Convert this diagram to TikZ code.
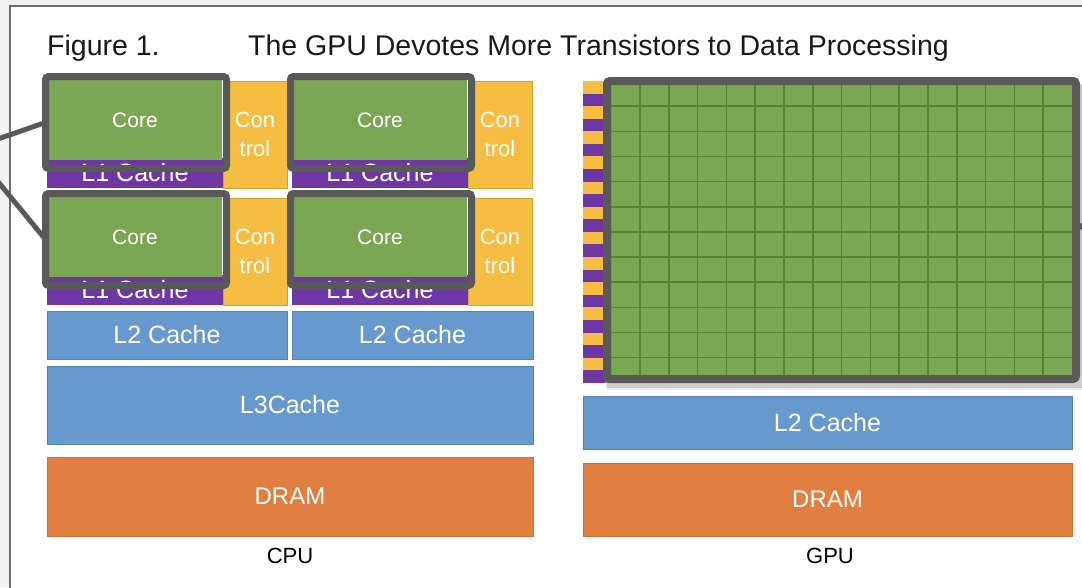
\documentclass[tikz,border=0pt]{standalone}
\usepackage{fontspec}
\setmainfont{Liberation Sans}
\definecolor{cgreen}{HTML}{7BA653}
\definecolor{cgrid}{HTML}{558533}
\definecolor{cpurple}{HTML}{6E37A4}
\definecolor{cyellow}{HTML}{F5BD41}
\definecolor{cblue}{HTML}{6799CF}
\definecolor{corange}{HTML}{E07F41}
\definecolor{cframe}{HTML}{595959}
\definecolor{cbg}{HTML}{F2F2F2}
\definecolor{cborder}{HTML}{6E6E6E}
\tikzset{
  blk/.style={rectangle, inner sep=0pt, outer sep=0pt, line width=0.6pt, text=white},
  corebox/.style={blk, fill=cgreen, minimum width=174, minimum height=80, font=\fontsize{21}{25}\selectfont},
  l1box/.style={blk, fill=cpurple, minimum width=176, minimum height=30, font=\fontsize{25}{30}\selectfont},
  ctlbox/.style={blk, fill=cyellow, draw=cyellow!85!black, minimum width=64, minimum height=107, align=center, font=\fontsize{22}{29}\selectfont},
  coreframe/.style={rectangle, draw=cframe, line width=7pt, rounded corners=3pt, inner sep=0pt, outer sep=0pt},
  bluebox/.style={blk, fill=cblue, draw=cblue!85!black, font=\fontsize{25}{30}\selectfont},
  drambox/.style={blk, fill=corange, draw=corange!90!black, font=\fontsize{24}{30}\selectfont},
  conn/.style={draw=cframe, line width=5pt},
  caption/.style={font=\fontsize{22}{26}\selectfont, text=black, inner sep=0pt},
  titletext/.style={font=\fontsize{28.5}{34}\selectfont, text=black!90, inner sep=0pt, anchor=base west}
}
\begin{document}
\begin{tikzpicture}[x=1pt, y=-1pt]
\useasboundingbox (0,0) rectangle (1082,587);
% background and figure frame
\fill[cbg] (0,0) rectangle (1082,587);
\draw[cborder, line width=1.5pt, fill=white] (10,6) rectangle (1100,620);
% title
\node[titletext] (fig) at (47,55) {Figure 1.};
\node[titletext] (title) at (248,55) {The GPU Devotes More Transistors to Data Processing};
% CPU cells
\foreach \c/\r in {0/0,1/0,0/1,1/1} {
  \pgfmathsetmacro{\dx}{\c*245}
  \pgfmathsetmacro{\dy}{\r*117}
  \node[ctlbox] (ctl\c\r) at (255+\dx,134.5+\dy) {Con\\trol};
  \node[l1box] (l1\c\r) at (135+\dx,173+\dy) {L1 Cache};
  \node[corebox] (core\c\r) at (135+\dx,120+\dy) {Core};
  \node[coreframe, minimum width=181, minimum height=92] (cf\c\r) at (136+\dx,122.5+\dy) {};
}
% CPU caches and memory
\node[bluebox, minimum width=240, minimum height=48] (l2a) at (167,335) {L2 Cache};
\node[bluebox, minimum width=241, minimum height=48] (l2b) at (412.5,335) {L2 Cache};
\node[bluebox, minimum width=486, minimum height=78] (l3) at (290,405) {L3Cache};
\node[drambox, minimum width=486, minimum height=79] (dram1) at (290,496.5) {DRAM};
\node[caption] (cpu) at (290,556) {CPU};
% connectors on the left
\coordinate (lc1) at (-5,140);
\coordinate (lc2) at (-5,178);
\draw[conn] (lc1) -- (cf00.west);
\draw[conn] (lc2) -- (cf01.west);
% soft shadow of the GPU block
\fill[black, opacity=0.12] (606,84) rectangle (1083,388);
\fill[black, opacity=0.08] (607,85) rectangle (1084,390);
% GPU stripes (control / L1)
\foreach \k in {0,...,23} {
  \pgfmathsetmacro{\ya}{81+12.575*\k}
  \pgfmathsetmacro{\yb}{81+12.575*(\k+1)}
  \pgfmathtruncatemacro{\odd}{mod(\k,2)}
  \ifnum\odd=0
    \fill[cyellow] (583,\ya) rectangle (605,\yb);
  \else
    \fill[cpurple] (583,\ya) rectangle (605,\yb);
  \fi
}
% GPU core grid
\fill[cgreen] (605,81) rectangle (1072,382.8);
\foreach \i in {1,...,15} {
  \draw[cgrid, line width=1.5pt] (611.2+28.8*\i,81) -- (611.2+28.8*\i,382.8);
}
\foreach \j in {1,...,11} {
  \draw[cgrid, line width=1.5pt] (605,81+25.15*\j) -- (1072,81+25.15*\j);
}
\node[coreframe, line width=8pt, minimum width=469, minimum height=298] (sm) at (841.5,230) {};
\coordinate (rc1) at (1110,205);
\draw[conn] (sm.east) -- (rc1);
% GPU caches and memory
\node[bluebox, minimum width=489, minimum height=53] (gl2) at (827.5,422.5) {L2 Cache};
\node[drambox, minimum width=489, minimum height=73] (dram2) at (827.5,499.5) {DRAM};
\node[caption] (gpu) at (830,556) {GPU};
\end{tikzpicture}
\end{document}
